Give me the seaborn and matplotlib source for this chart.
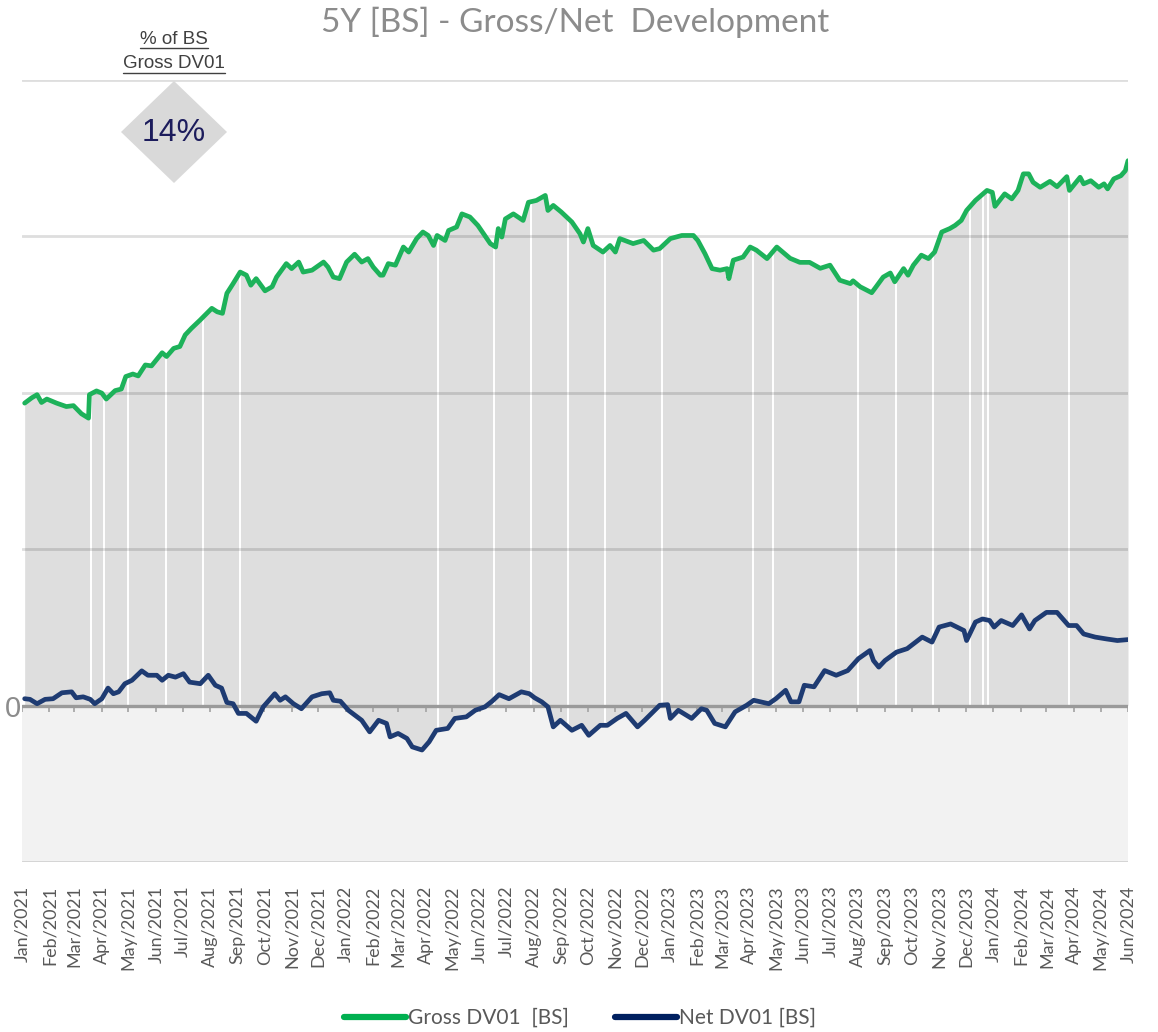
import matplotlib
matplotlib.use("Agg")
import matplotlib.pyplot as plt
from matplotlib.lines import Line2D
from matplotlib.patches import Polygon
import numpy as np
import pandas as pd
import seaborn as sns

# chart values (days since 1 Jan 2021, DV01 in k, grid step 50)
start = pd.Timestamp("2021-01-01")
end = pd.Timestamp("2024-06-01")

gross_days = [3, 11, 17, 22, 28, 39, 50, 58, 67, 75, 76, 84, 90, 95, 105, 112, 117, 125, 131, 139,
              146, 158, 163, 171, 178, 184, 191, 201, 214, 220, 226, 231, 238, 246, 253, 258, 264, 274, 282, 287,
              298, 304, 312, 317, 327, 332, 340, 345, 351, 358, 366, 375, 383, 390, 396, 404, 407, 413, 421, 430,
              436, 445, 452, 458, 464, 468, 477, 481, 490, 496, 505, 514, 528, 534, 537, 541, 545, 554, 565, 571,
              580, 590, 593, 599, 608, 620, 629, 633, 638, 644, 655, 663, 669, 674, 689, 701, 712, 719, 731, 744,
              757, 762, 770, 778, 787, 795, 797, 802, 813, 821, 828, 840, 851, 866, 877, 888, 900, 911, 922, 934,
              937, 945, 958, 963, 971, 979, 984, 994, 999, 1005, 1014, 1022, 1029, 1037, 1046, 1052, 1059, 1065, 1075, 1088,
              1094, 1097, 1108, 1116, 1123, 1129, 1135, 1140, 1148, 1159, 1167, 1178, 1181, 1193, 1197, 1205, 1214, 1220, 1224, 1231,
              1239, 1244, 1247]
gross_vals = [96.7, 98.4, 99.4, 96.9, 98.0, 96.7, 95.6, 95.9, 93.3, 91.9, 99.4, 100.6, 99.9, 98.0, 100.7, 101.2, 105.2, 106.0, 105.4, 108.9,
              108.6, 112.8, 111.6, 114.2, 114.8, 118.5, 120.6, 123.3, 127.0, 125.9, 125.4, 131.8, 134.9, 138.6, 137.6, 134.4, 136.5, 132.6, 133.9, 137.0,
              141.3, 139.7, 141.8, 138.6, 139.2, 140.2, 141.8, 140.2, 137.0, 136.5, 141.8, 144.3, 141.8, 142.9, 140.2, 137.6, 137.6, 141.3, 140.8, 146.6,
              145.0, 149.3, 151.4, 150.3, 147.1, 150.3, 148.7, 151.9, 153.0, 157.2, 156.2, 153.5, 147.7, 146.6, 152.5, 149.8, 155.6, 157.2, 155.1, 160.9,
              161.5, 163.1, 158.3, 159.9, 157.8, 154.6, 150.9, 148.2, 152.5, 147.1, 145.0, 147.1, 145.0, 149.3, 147.7, 148.7, 145.6, 146.1, 149.3, 150.3,
              150.3, 148.7, 144.5, 139.7, 139.2, 139.7, 136.5, 142.4, 143.4, 146.6, 145.6, 142.9, 146.6, 143.0, 141.7, 141.7, 139.8, 140.8, 136.0, 134.9,
              135.8, 133.9, 132.0, 133.9, 137.0, 138.3, 135.5, 139.7, 137.6, 140.8, 144.0, 142.9, 145.0, 151.4, 152.5, 153.5, 155.1, 158.3, 161.5, 164.7,
              164.1, 159.6, 163.6, 162.0, 164.7, 170.0, 170.0, 167.3, 165.7, 167.6, 165.9, 169.1, 164.7, 168.9, 166.8, 167.8, 165.7, 166.8, 165.2, 168.4,
              169.4, 171.0, 174.2]

net_days = [3, 9, 17, 26, 35, 45, 56, 61, 69, 77, 82, 90, 97, 103, 109, 116, 124, 135, 142, 152,
            158, 165, 173, 182, 189, 201, 210, 218, 225, 231, 238, 244, 253, 264, 272, 285, 291, 297, 306, 315,
            327, 338, 347, 351, 359, 368, 383, 392, 402, 411, 415, 424, 434, 440, 451, 459, 467, 480, 488, 501,
            511, 522, 530, 538, 549, 563, 572, 578, 586, 593, 599, 607, 620, 631, 639, 652, 660, 671, 681, 694,
            702, 719, 728, 731, 740, 755, 766, 772, 781, 793, 804, 817, 825, 842, 850, 861, 867, 876, 882, 893,
            905, 918, 931, 943, 956, 960, 966, 973, 986, 998, 1015, 1026, 1034, 1047, 1062, 1065, 1075, 1083, 1091, 1096,
            1104, 1117, 1127, 1136, 1142, 1155, 1167, 1180, 1189, 1197, 1210, 1223, 1235, 1247]
net_vals = [2.2, 2.0, 0.6, 2.0, 2.2, 4.1, 4.4, 2.5, 2.8, 2.0, 0.6, 2.2, 5.6, 3.8, 4.4, 7.0, 8.1, 11.1, 9.7, 9.7,
            8.1, 9.7, 9.1, 10.2, 7.5, 7.0, 9.7, 6.5, 5.6, 1.0, 0.6, -2.5, -2.5, -5.0, -0.4, 3.8, 1.7, 2.8, 0.6, -1.0,
            2.8, 3.8, 4.1, 1.7, 1.4, -1.5, -4.7, -8.4, -4.7, -5.7, -10.0, -8.9, -10.5, -13.2, -14.2, -11.6, -7.9, -7.3, -4.1, -3.6,
            -1.5, -0.4, 1.4, 3.5, 2.2, 4.4, 3.8, 2.5, 1.2, -0.4, -6.8, -4.7, -7.9, -6.3, -9.5, -6.3, -6.3, -4.1, -2.5, -6.8,
            -4.7, 0.1, 0.3, -4.1, -1.5, -4.1, -1.0, -1.5, -5.7, -6.8, -2.0, 0.1, 1.7, 0.6, 2.2, 4.9, 1.2, 1.2, 6.5, 6.0,
            11.2, 9.7, 11.2, 15.0, 17.6, 14.4, 12.3, 14.4, 17.1, 18.2, 21.9, 20.3, 25.1, 26.1, 24.0, 20.8, 26.7, 27.7, 27.2, 25.1,
            27.2, 25.6, 29.0, 24.5, 27.2, 29.8, 29.8, 25.6, 25.6, 22.9, 21.9, 21.3, 20.8, 21.1]

# missing days (holidays) that show as white gaps in the area
gap_days = [78, 92, 120, 162, 204, 246, 469, 532, 574, 616, 657, 722, 824, 847, 943, 985, 1027, 1069, 1084, 1089, 1180]

month_ticks = pd.date_range(start, end, freq="MS")
tick_labels = [d.strftime("%b/%Y") for d in month_ticks]

title = "5Y [BS] - Gross/Net  Development"
badge_title = ["% of BS", "Gross DV01"]
badge_value = "14%"
series_names = ["Gross DV01  [BS]", "Net DV01 [BS]"]

green = "#1db25a"
navy = "#1e3b72"
fill_grey = "#dedede"

sns.set_style("white")
plt.rcParams["font.family"] = ["Lato", "DejaVu Sans"]

gross = pd.DataFrame({"date": start + pd.to_timedelta(gross_days, unit="D"), "value": gross_vals})
net = pd.DataFrame({"date": start + pd.to_timedelta(net_days, unit="D"), "value": net_vals})
gaps = start + pd.to_timedelta(gap_days, unit="D")

W, H = 1158, 1032
fig = plt.figure(figsize=(W / 100, H / 100), dpi=100)
ax = fig.add_axes([22 / W, 1 - 862 / H, (1128 - 22) / W, (862 - 80) / H])

# negative half background
ax.axhspan(-50, 0, color="#f2f2f2", lw=0, zorder=0)

# grey area: zero up to gross, and net down to zero where net is negative
ax.fill_between(gross["date"], 0, gross["value"], color=fill_grey, lw=0, zorder=1)
ax.fill_between(net["date"], np.minimum(net["value"], 0), 0, color=fill_grey, lw=0, zorder=1)

gap_top = np.interp(gap_days, gross_days, gross_vals)
gap_low = np.minimum(np.interp(gap_days, net_days, net_vals), 0)
ax.vlines(gaps, gap_low, gap_top, color="white", lw=1.4, zorder=1.5)

for y in [50, 100, 150, 200, -50]:
    ax.axhline(y, color="black", alpha=0.13, lw=2, zorder=2)
ax.vlines(month_ticks, -2.2, 0, color="#a8a8a8", lw=1.3, zorder=2.4)
ax.axhline(0, color="#9a9a9a", lw=2.4, zorder=2.5)

sns.lineplot(data=gross, x="date", y="value", color=green, lw=3.4, ax=ax, errorbar=None, zorder=4)
sns.lineplot(data=net, x="date", y="value", color=navy, lw=3.4, ax=ax, errorbar=None, zorder=4)

ax.set_xlim(start, end)
ax.set_ylim(-50, 200)
ax.set_xlabel("")
ax.set_ylabel("")
ax.set_xticks(month_ticks)
ax.set_xticklabels(tick_labels, rotation=90, fontsize=13, color="#595959")
ax.set_yticks([0])
ax.set_yticklabels(["0"], fontsize=21, color="#8c8c8c", family=["Liberation Sans"])
ax.tick_params(axis="x", length=0, pad=17)
ax.tick_params(axis="y", length=0, pad=1)
for s in ax.spines.values():
    s.set_visible(False)
ax.grid(False)

fig.text(575 / W, 1 - 22 / H, title, ha="center", va="center", fontsize=24, color="#8c8c8c")

# badge with share of gross DV01
cx, cy = 174 / W, 1 - 132 / H
dx, dy = 53 / W, 51 / H
fig.add_artist(Polygon([(cx, cy + dy), (cx + dx, cy), (cx, cy - dy), (cx - dx, cy)],
                       closed=True, transform=fig.transFigure, color="#d9d9d9", lw=0, zorder=5))
fig.text(cx, 1 - 133 / H, badge_value, ha="center", va="center", fontsize=23,
         color="#1c1c5c", family=["Liberation Sans"], zorder=6)

heads = []
for txt, ypix in zip(badge_title, [39, 64]):
    heads.append(fig.text(cx, 1 - ypix / H, txt, ha="center", va="center", fontsize=13.5,
                          color="#404040", family=["Liberation Sans"]))
fig.canvas.draw()
inv = fig.transFigure.inverted()
for t, ypix in zip(heads, [48, 73]):
    bb = t.get_window_extent()
    x0, _ = inv.transform((bb.x0, bb.y0))
    x1, _ = inv.transform((bb.x1, bb.y0))
    fig.add_artist(Line2D([x0, x1], [1 - ypix / H] * 2, transform=fig.transFigure,
                          color="#404040", lw=1))

handles = [Line2D([], [], color="#00b050", lw=4.5, solid_capstyle="round", label=series_names[0]),
           Line2D([], [], color="#002060", lw=4.5, solid_capstyle="round", label=series_names[1])]
fig.legend(handles=handles, loc="center", bbox_to_anchor=(580 / W, 1 - 1018 / H), ncol=2,
           frameon=False, fontsize=15, handlelength=3.0, handletextpad=0.1, columnspacing=2.2,
           labelcolor="#595959")

fig.savefig("out.png", dpi=100)
